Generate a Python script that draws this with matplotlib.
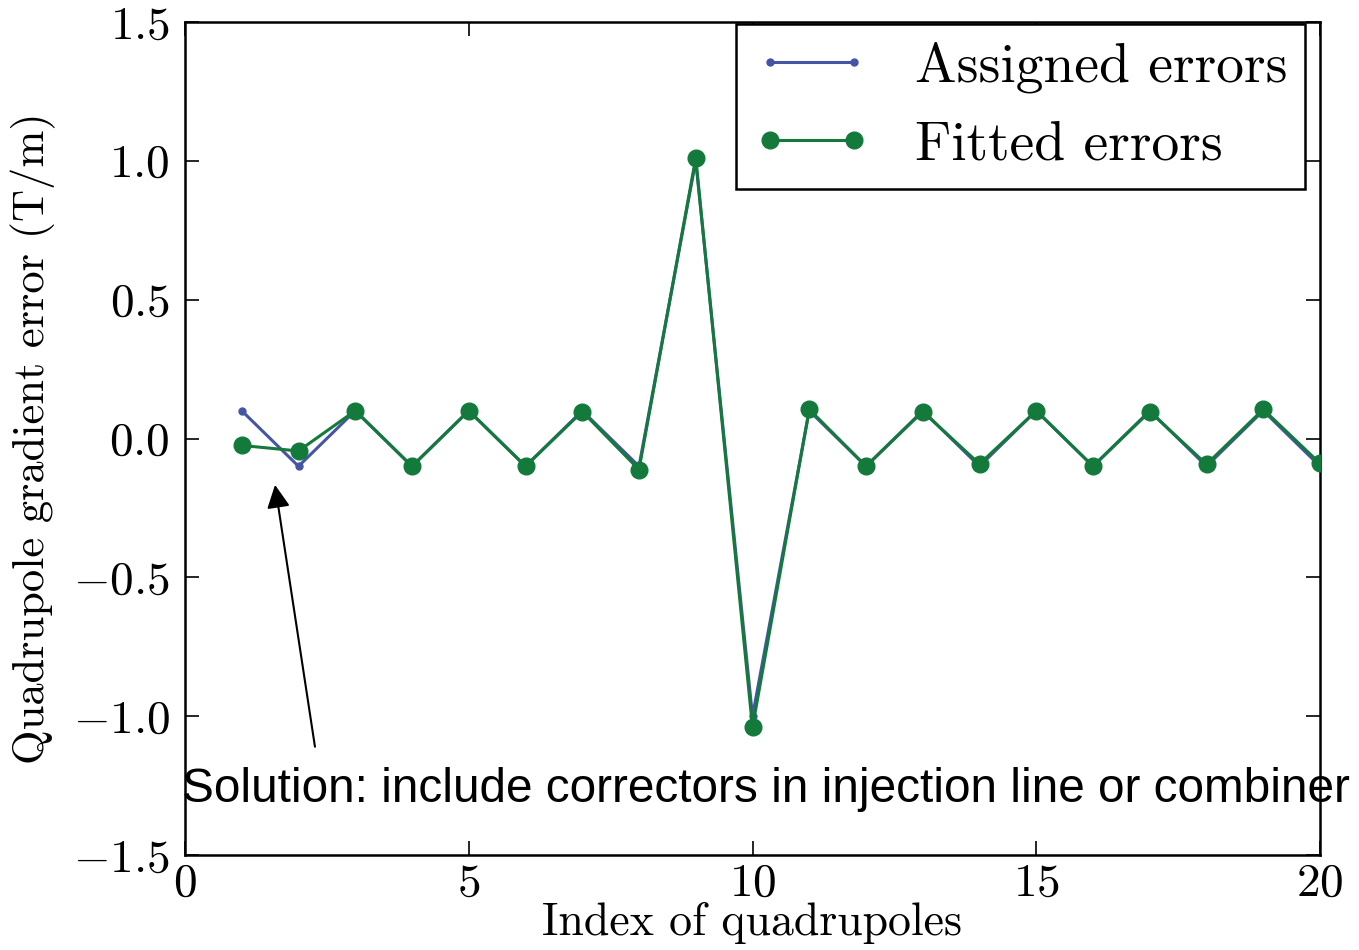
import matplotlib
matplotlib.use("Agg")
import matplotlib.pyplot as plt
import numpy as np

plt.rcParams['font.family'] = 'serif'
plt.rcParams['font.serif'] = ['cmr10']
plt.rcParams['mathtext.fontset'] = 'cm'
plt.rcParams['axes.formatter.use_mathtext'] = True
plt.rcParams['axes.unicode_minus'] = True

index = [1, 2, 3, 4, 5, 6, 7, 8, 9, 10, 11, 12, 13, 14, 15, 16, 17, 18, 19, 20]
assigned = [0.10, -0.10, 0.10, -0.10, 0.10, -0.10, 0.10, -0.10, 1.00, -1.00,
            0.10, -0.10, 0.10, -0.10, 0.10, -0.10, 0.10, -0.10, 0.10, -0.10]
fitted = [-0.025, -0.045, 0.10, -0.10, 0.10, -0.10, 0.097, -0.112, 1.01, -1.04,
          0.105, -0.10, 0.097, -0.092, 0.10, -0.10, 0.097, -0.093, 0.105, -0.09]

xticks = [0, 5, 10, 15, 20]
yticks = [-1.5, -1.0, -0.5, 0.0, 0.5, 1.0, 1.5]

fig = plt.figure(figsize=(13.59, 9.5), dpi=100)
ax = fig.add_axes([185/1359, 1-855/950, (1320-185)/1359, (855-22)/950])

ax.plot(index, assigned, '-', color='#4555a5', lw=2.2, marker='o', ms=5,
        label='Assigned errors', zorder=3)
ax.plot(index, fitted, '-', color='#137a3c', lw=2.2, marker='o', ms=12,
        label='Fitted errors', zorder=4)

ax.set_xlim(0, 20)
ax.set_ylim(-1.5, 1.5)
ax.set_xticks(xticks)
ax.set_yticks(yticks)
ax.tick_params(direction='in', length=10, width=1.2, top=True, right=True,
               labelsize=34)
ax.tick_params(axis='y', pad=11)
ax.tick_params(axis='x', pad=6)
for s in ax.spines.values():
    s.set_linewidth(1.8)
ax.set_xlabel('Index of quadrupoles', fontsize=33, labelpad=-2)
ax.set_ylabel('Quadrupole gradient error (T/m)', fontsize=32, labelpad=12)

leg = ax.legend(loc='upper right', bbox_to_anchor=((1305-185)/1135, (855-24)/833),
                borderaxespad=0, fontsize=40, numpoints=2, handlelength=2.1,
                handletextpad=0.8, labelspacing=0.5, fancybox=False,
                edgecolor='black', framealpha=1, borderpad=0.32)
leg.get_frame().set_linewidth(1.8)

ax.annotate('', xy=(1.586, -0.167), xytext=(2.29, -1.11),
            arrowprops=dict(arrowstyle='-|>', color='black', lw=1.5,
                            mutation_scale=35, shrinkA=0, shrinkB=0))

fig.text(182/1359, 1-789/950, 'Solution: include correctors in injection line or combiner',
         fontsize=34.4, family='Liberation Sans', va='center', ha='left')

fig.savefig('out.png', dpi=100)
